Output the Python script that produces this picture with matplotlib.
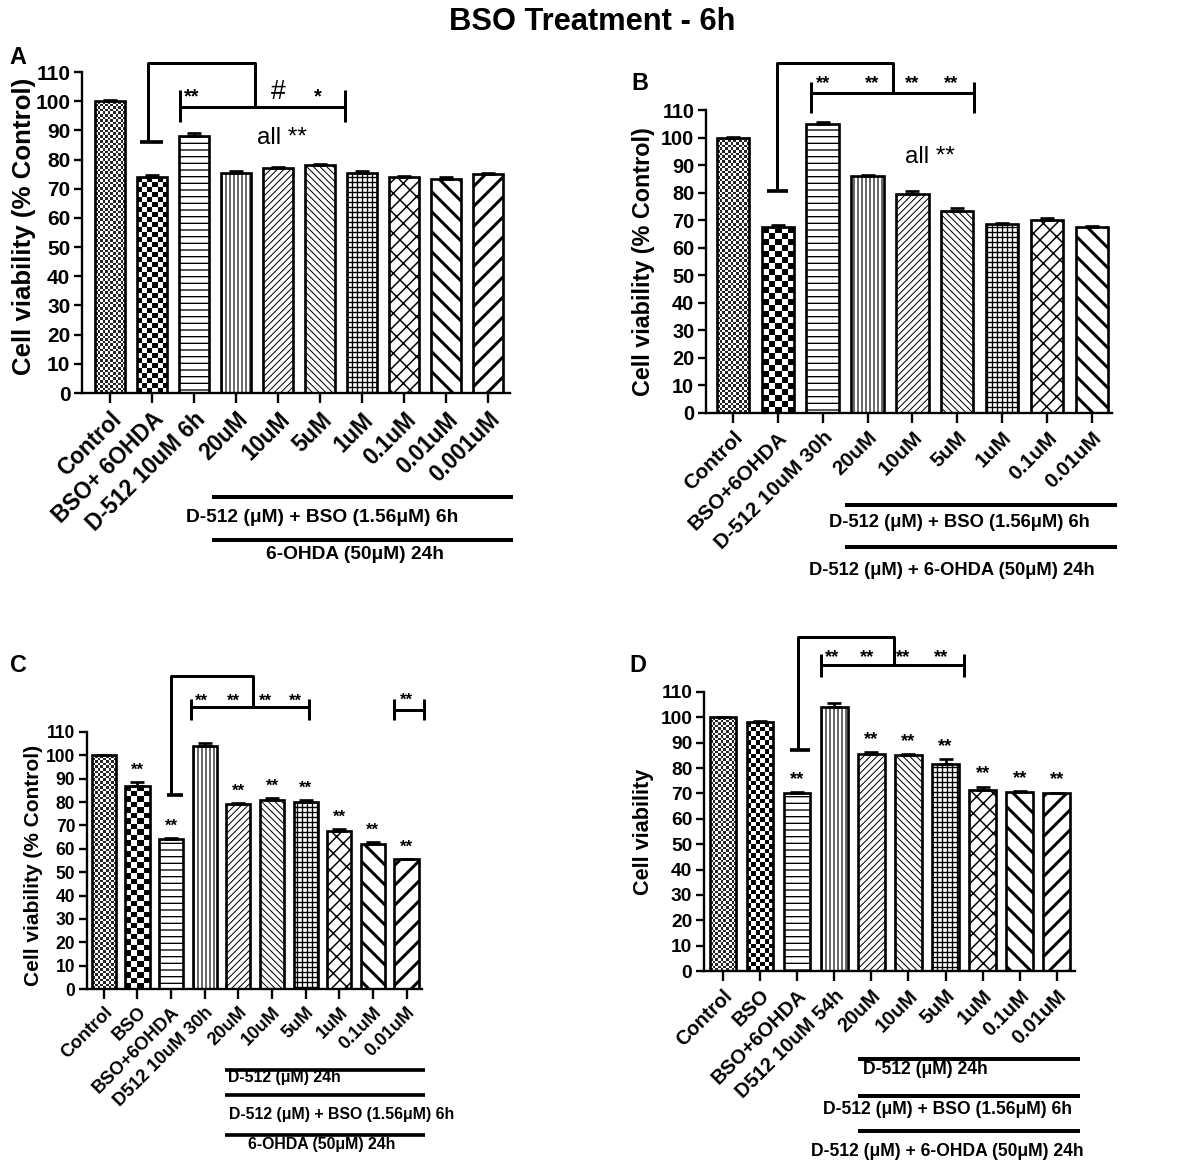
import numpy as np
import matplotlib.pyplot as plt

plt.rcParams.update({
    "font.family": ["Liberation Sans", "DejaVu Sans"],
    "font.weight": "bold",
    "axes.linewidth": 1.4,
    "hatch.linewidth": 0.8,
})

DPI = 120
W, H = 1189, 1165

# ---- data -------------------------------------------------------------
a_labels = ["Control", "BSO+ 6OHDA", "D-512 10uM 6h", "20uM", "10uM", "5uM",
            "1uM", "0.1uM", "0.01uM", "0.001uM"]
a_values = [100, 74, 88, 75.5, 77, 78, 75.5, 74, 73.5, 75]
a_errors = [0.3, 0.8, 1.0, 0.5, 0.5, 0.5, 0.5, 0.3, 0.5, 0.3]

b_labels = ["Control", "BSO+6OHDA", "D-512 10uM 30h", "20uM", "10uM", "5uM",
            "1uM", "0.1uM", "0.01uM"]
b_values = [100, 67.5, 105, 86, 79.5, 73.5, 68.5, 70, 67.5]
b_errors = [0.3, 0.8, 0.5, 0.5, 1.0, 0.8, 0.5, 0.8, 0.5]

c_labels = ["Control", "BSO", "BSO+6OHDA", "D512 10uM 30h", "20uM", "10uM",
            "5uM", "1uM", "0.1uM", "0.01uM"]
c_values = [100, 87, 64, 104, 79, 81, 80, 67.5, 62, 55.5]
c_errors = [0.3, 1.8, 0.8, 1.5, 0.8, 0.8, 0.8, 0.8, 0.8, 0.3]
c_stars = ["", "**", "**", "", "**", "**", "**", "**", "**", "**"]

d_labels = ["Control", "BSO", "BSO+6OHDA", "D512 10uM 54h", "20uM", "10uM",
            "5uM", "1uM", "0.1uM", "0.01uM"]
d_values = [100, 98, 70, 104, 85.5, 85, 81.5, 71.5, 70.5, 70]
d_errors = [0.3, 0.5, 0.5, 1.5, 0.8, 0.5, 2.0, 1.2, 0.5, 0.3]
d_stars = ["", "", "**", "", "**", "**", "**", "**", "**", "**"]

# fill pattern per bar position (same order in every panel)
fills = ["fine", "checker", "---", "|||||", "//////", "\\\\\\\\\\\\", "++++",
         "///\\\\", "\\\\", "//"]
hatch_lw = [0, 0, 0.8, 0.7, 0.6, 0.6, 0.8, 0.9, 1.8, 1.8]

yticks = list(range(0, 111, 10))


def px(x, y):
    return x / W, 1 - y / H


def add_panel(left, top, right, bottom):
    x0, y1 = px(left, top)
    x1, y0 = px(right, bottom)
    return fig.add_axes([x0, y0, x1 - x0, y1 - y0])


def checker_fill(ax, bar, size_px=5, light=0.0):
    x0, y0 = bar.get_x(), bar.get_y()
    w, h = bar.get_width(), bar.get_height()
    (p0, q0), (p1, q1) = ax.transData.transform([(x0, y0), (x0 + w, y0 + h)])
    nx = max(1, int(round((p1 - p0) / size_px)))
    ny = max(1, int(round((q1 - q0) / size_px)))
    grid = (np.add.outer(np.arange(ny), np.arange(nx)) % 2).astype(float)
    grid = light + (1 - light) * grid
    im = ax.imshow(grid, cmap="gray", vmin=0, vmax=1,
                   extent=(x0, x0 + w, y0, y0 + h), aspect="auto",
                   interpolation="nearest", origin="lower", zorder=1.5)
    im.set_clip_path(bar)


def draw_bars(ax, labels, values, errors, xlim, tick_fs, label_fs, checker_px=5):
    x = np.arange(len(values))
    ax.set_xlim(*xlim)
    ax.set_ylim(0, 110)
    bars = ax.bar(x, values, width=0.72, color="white", edgecolor="black",
                  linewidth=1.6, zorder=2)
    for i, bar in enumerate(bars):
        if fills[i] == "checker":
            bar.set_facecolor("none")
            checker_fill(ax, bar, checker_px)
        elif fills[i] == "fine":
            bar.set_facecolor("none")
            checker_fill(ax, bar, 2.6, light=0.15)
        else:
            bar.set_hatch(fills[i])
            try:
                bar.set_hatch_linewidth(hatch_lw[i])
            except AttributeError:
                pass
    ax.errorbar(x, values, yerr=[np.zeros(len(errors)), errors], fmt="none",
                ecolor="black", elinewidth=1.6, capsize=4, capthick=1.6, zorder=3)
    ax.set_xlim(*xlim)
    ax.set_ylim(0, 110)
    ax.set_yticks(yticks)
    ax.set_yticklabels([str(t) for t in yticks], fontsize=tick_fs, fontweight="bold")
    ax.set_xticks(x)
    ax.set_xticklabels(labels, rotation=45, ha="right", rotation_mode="anchor",
                       fontsize=label_fs, fontweight="bold")
    ax.tick_params(axis="both", width=1.4, length=5, pad=2)
    ax.tick_params(axis="x", length=6, pad=3)
    ax.spines["top"].set_visible(False)
    ax.spines["right"].set_visible(False)
    return x


def line(ax, xs, ys, lw=1.8):
    ax.plot(xs, ys, color="black", lw=lw, clip_on=False,
            solid_capstyle="butt", zorder=5)


def bracket(ax, x0, x1, y, lo, hi):
    line(ax, [x0, x1], [y, y])
    line(ax, [x0, x0], [lo, hi])
    line(ax, [x1, x1], [lo, hi])


def linker(ax, xcap, cap_y, xv, top, xr, low):
    line(ax, xcap, [cap_y, cap_y], lw=2.2)
    line(ax, [xv, xv, xr, xr], [cap_y, top, top, low])


def note(ax, x, y, s, fs=11, **kw):
    ax.text(x, y, s, fontsize=fs, ha=kw.pop("ha", "center"), va=kw.pop("va", "center"),
            clip_on=False, **kw)


fig = plt.figure(figsize=(W / DPI, H / DPI), dpi=DPI)
fig.patch.set_facecolor("white")

fig.text(*px(592, 22), "BSO Treatment - 6h", fontsize=18.5, fontweight="bold",
         ha="center", va="center")
for letter, (lx, ly) in zip("ABCD", [(18, 57), (640, 83), (18, 665), (638, 665)]):
    fig.text(*px(lx, ly), letter, fontsize=14, fontweight="bold", ha="center", va="center")

# ---- panel A ------------------------------------------------------------
ax = add_panel(82, 72, 510, 393)
draw_bars(ax, a_labels, a_values, a_errors, (-0.67, 9.52), 12.5, 13.5)
ax.text(-0.136, 0.52, "Cell viability (% Control)", transform=ax.transAxes,
        rotation=90, ha="center", va="center", fontsize=15.5, fontweight="bold")
linker(ax, [0.71, 1.26], 86, 0.9, 113, 3.45, 98)
bracket(ax, 1.67, 5.6, 98, 93, 104)
note(ax, 1.95, 101.5, "**", fs=12)
note(ax, 4.0, 103, "#", fs=16, fontweight="normal")
note(ax, 4.95, 101.5, "*", fs=12)
note(ax, 4.1, 87.5, "all **", fs=14.5, fontweight="normal")
line(ax, [2.43, 9.6], [-35.6, -35.6], lw=2.4)
line(ax, [2.43, 9.6], [-50.3, -50.3], lw=2.4)
note(ax, 5.05, -42.5, "D-512 (\u03bcM) + BSO (1.56\u03bcM) 6h", fs=11.5)
note(ax, 5.83, -55.5, "6-OHDA (50\u03bcM) 24h", fs=11.5)

# ---- panel B ------------------------------------------------------------
ax = add_panel(706, 110, 1112, 413)
draw_bars(ax, b_labels, b_values, b_errors, (-0.6, 8.45), 12, 12.5, checker_px=6)
ax.text(-0.155, 0.5, "Cell viability (% Control)", transform=ax.transAxes,
        rotation=90, ha="center", va="center", fontsize=14, fontweight="bold")
linker(ax, [0.76, 1.22], 80.5, 0.98, 127, 3.56, 116)
bracket(ax, 1.73, 5.38, 116, 109, 120)
for sx in [2.0, 3.1, 4.0, 4.87]:
    note(ax, sx, 119.5, "**", fs=11)
note(ax, 4.4, 93, "all **", fs=14.5, fontweight="normal")
line(ax, [2.49, 8.56], [-33.4, -33.4], lw=2.4)
line(ax, [2.49, 8.56], [-48.6, -48.6], lw=2.4)
note(ax, 5.04, -39.6, "D-512 (\u03bcM) + BSO (1.56\u03bcM) 6h", fs=11)
note(ax, 4.89, -57, "D-512 (\u03bcM) + 6-OHDA (50\u03bcM) 24h", fs=11)

# ---- panel C ------------------------------------------------------------
ax = add_panel(87, 732, 422, 989)
xc = draw_bars(ax, c_labels, c_values, c_errors, (-0.5, 9.46), 10.5, 11, checker_px=5.5)
ax.text(-0.161, 0.48, "Cell viability (% Control)", transform=ax.transAxes,
        rotation=90, ha="center", va="center", fontsize=12.5, fontweight="bold")
for i, s in enumerate(c_stars):
    if s:
        note(ax, xc[i], c_values[i] + c_errors[i] + 5, s, fs=10)
linker(ax, [1.87, 2.35], 83, 2.0, 134, 4.43, 120.5)
bracket(ax, 2.6, 6.1, 120.5, 115, 124)
for sx in [2.9, 3.85, 4.8, 5.7]:
    note(ax, sx, 123, "**", fs=10)
bracket(ax, 8.63, 9.52, 119.6, 115, 124)
note(ax, 9.0, 123.5, "**", fs=10)
for yy in [-34.6, -45.3, -62.4]:
    line(ax, [3.6, 9.55], [yy, yy], lw=2.2)
note(ax, 3.69, -38, "D-512 (\u03bcM) 24h", fs=9.5, ha="left")
note(ax, 3.72, -53.8, "D-512 (\u03bcM) + BSO (1.56\u03bcM) 6h", fs=9.5, ha="left")
note(ax, 6.49, -66.7, "6-OHDA (50\u03bcM) 24h", fs=9.5)

# ---- panel D ------------------------------------------------------------
ax = add_panel(704, 692, 1075, 971)
xd = draw_bars(ax, d_labels, d_values, d_errors, (-0.51, 9.49), 11.5, 12, checker_px=4.5)
ax.text(-0.164, 0.5, "Cell viability", transform=ax.transAxes,
        rotation=90, ha="center", va="center", fontsize=13, fontweight="bold")
for i, s in enumerate(d_stars):
    if s:
        note(ax, xd[i], d_values[i] + d_errors[i] + 5, s, fs=11)
linker(ax, [1.8, 2.35], 87, 2.02, 131.5, 4.6, 120.5)
bracket(ax, 2.64, 6.5, 120.5, 116, 125)
for sx in [2.94, 3.88, 4.85, 5.87]:
    note(ax, sx, 123.5, "**", fs=11)
for yy in [-34.6, -49.2, -63]:
    line(ax, [3.64, 9.62], [yy, yy], lw=2.4)
note(ax, 3.77, -39, "D-512 (\u03bcM) 24h", fs=10.5, ha="left")
note(ax, 6.04, -54.7, "D-512 (\u03bcM) + BSO (1.56\u03bcM) 6h", fs=10.5)
note(ax, 6.04, -71.3, "D-512 (\u03bcM) + 6-OHDA (50\u03bcM) 24h", fs=10.5)

fig.savefig("out.png", dpi=DPI)
